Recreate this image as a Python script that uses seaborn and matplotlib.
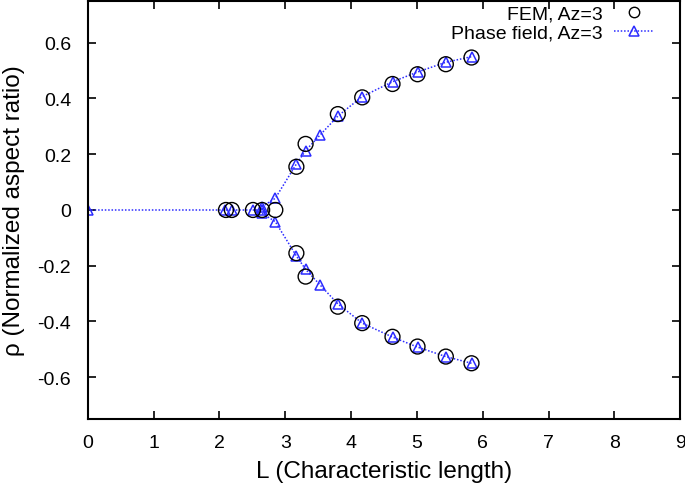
import matplotlib
matplotlib.use("Agg")
import matplotlib.pyplot as plt
import seaborn as sns
import pandas as pd
from matplotlib.lines import Line2D

# FEM data (upper branch; lower branch mirrored)
fem_flat_L = [2.10, 2.19, 2.51, 2.65, 2.85]
fem_flat_rho = [0.0, 0.0, 0.0, 0.0, 0.0]
fem_L = [3.17, 3.31, 3.80, 4.17, 4.63, 5.01, 5.44, 5.83]
fem_up = [0.155, 0.237, 0.344, 0.404, 0.452, 0.487, 0.523, 0.547]
fem_dn = [-0.155, -0.239, -0.347, -0.406, -0.455, -0.490, -0.526, -0.550]

# Phase field data
pf_flat_L = [0.0, 2.08, 2.19, 2.51, 2.65]
pf_flat_rho = [0.0, 0.0, 0.0, 0.0, 0.0]
pf_L = [2.65, 2.85, 3.17, 3.31, 3.53, 3.80, 4.17, 4.63, 5.01, 5.44, 5.83]
pf_up = [0.012, 0.042, 0.165, 0.213, 0.269, 0.337, 0.407, 0.460, 0.495, 0.530, 0.550]
pf_dn = [-0.012, -0.042, -0.165, -0.213, -0.269, -0.337, -0.406, -0.456, -0.492, -0.526, -0.550]

sns.set_style("ticks")
plt.rcParams['font.family'] = ['Liberation Sans', 'DejaVu Sans']
plt.rcParams['text.color'] = 'black'
plt.rcParams['axes.labelcolor'] = 'black'
plt.rcParams['xtick.color'] = 'black'
plt.rcParams['ytick.color'] = 'black'
plt.rcParams['axes.edgecolor'] = 'black'

fig = plt.figure(figsize=(6.85, 4.85), dpi=100)
ax = fig.add_axes([0.128, 0.134, 0.865, 0.862])

blue = "#2b2bff"
dots = (0, (1, 1.2))

pf_flat = pd.DataFrame({"L": pf_flat_L, "rho": pf_flat_rho})
pf_upper = pd.DataFrame({"L": pf_L, "rho": pf_up})
pf_lower = pd.DataFrame({"L": pf_L, "rho": pf_dn})
fem = pd.DataFrame({"L": fem_flat_L + fem_L + fem_L,
                    "rho": fem_flat_rho + fem_up + fem_dn})

line_kw = dict(color=blue, linestyle=dots, linewidth=1.1, marker="^",
               markersize=7, markerfacecolor="none", markeredgecolor=blue,
               markeredgewidth=1.1, sort=False, estimator=None)

sns.lineplot(data=pf_flat, x="L", y="rho", ax=ax, **line_kw)
sns.lineplot(data=pf_upper, x="L", y="rho", ax=ax, **line_kw)
sns.lineplot(data=pf_lower, x="L", y="rho", ax=ax, **line_kw)
sns.lineplot(data=pd.DataFrame({"L": [pf_flat_L[-1], pf_L[0]], "rho": [pf_flat_rho[-1], pf_up[0]]}),
             x="L", y="rho", ax=ax, color=blue, linestyle=dots, linewidth=1.1,
             sort=False, estimator=None)

sns.scatterplot(data=fem, x="L", y="rho", ax=ax, marker="o", s=115,
                facecolor="none", edgecolor="black", linewidth=1.0, zorder=3)

handles = [Line2D([], [], linestyle="none", marker="o", markersize=7.5,
                  markerfacecolor="none", markeredgecolor="black", markeredgewidth=1.0),
           Line2D([], [], color=blue, linestyle=dots, linewidth=1.1, marker="^",
                  markersize=7, markerfacecolor="none", markeredgecolor=blue,
                  markeredgewidth=1.1)]
ax.legend(handles, ["FEM, Az=3", "Phase field, Az=3"], loc="upper right",
          bbox_to_anchor=(0.963, 1.0), frameon=False, markerfirst=False, fontsize=14,
          handlelength=2.1, borderaxespad=0.0, borderpad=0.2,
          labelspacing=0.1, handletextpad=0.55)

ax.set_xlim(0, 9)
ax.set_ylim(-0.75, 0.75)
ax.set_xticks(range(0, 10))
ax.set_yticks([-0.6, -0.4, -0.2, 0, 0.2, 0.4, 0.6])
ax.set_yticklabels(["-0.6", "-0.4", "-0.2", "0", "0.2", "0.4", "0.6"])
ax.tick_params(direction="in", top=True, right=True, length=6, width=1.2,
               labelsize=14)
ax.tick_params(axis="x", pad=11)
ax.tick_params(axis="y", pad=12)
for s in ax.spines.values():
    s.set_visible(True)
    s.set_linewidth(1.5)
ax.set_xlabel("L (Characteristic length)", fontsize=17.5, labelpad=6)
ax.set_ylabel("ρ (Normalized aspect ratio)", fontsize=17.5, labelpad=9)

fig.savefig("out.png", dpi=100)
